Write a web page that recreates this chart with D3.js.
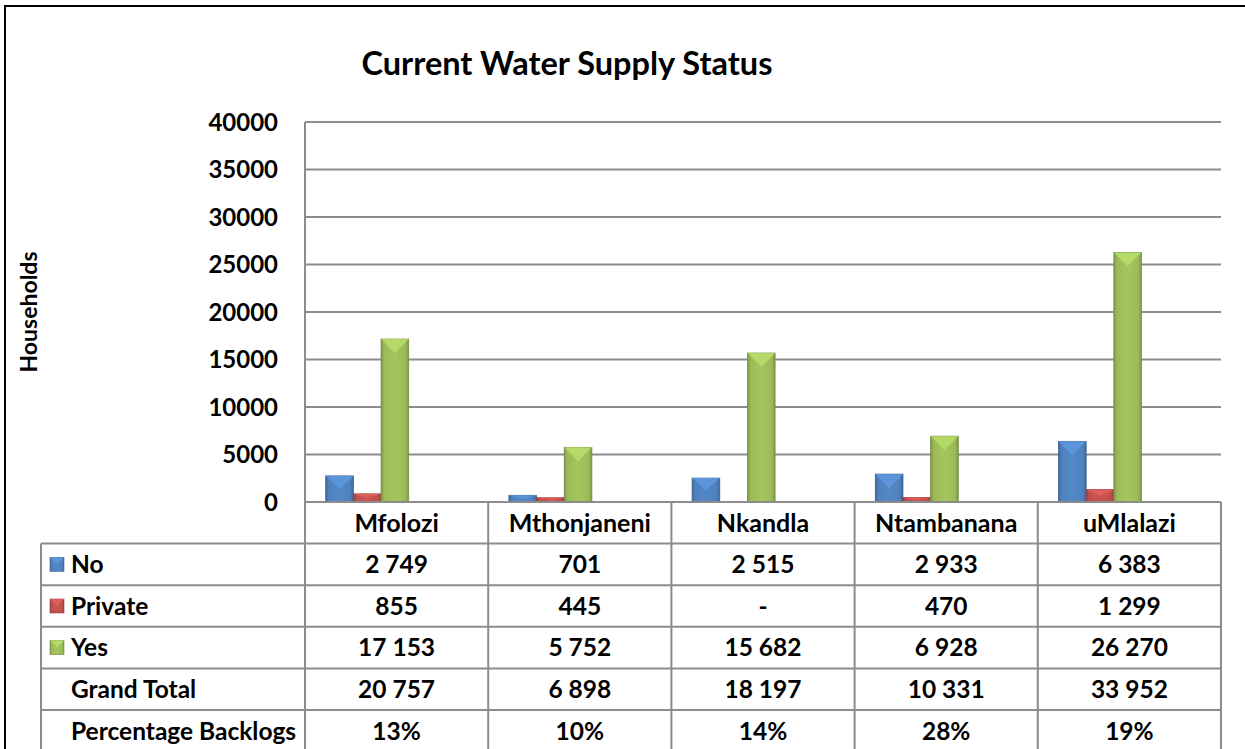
<!DOCTYPE html>
<html>
<head>
<meta charset="utf-8">
<script src="https://cdn.jsdelivr.net/npm/d3@7"></script>
<style>
  body { margin: 0; background: #fff; }
  text { font-family: Lato, "Open Sans", sans-serif; font-weight: bold; fill: #000; }
</style>
</head>
<body>
<div id="chart"></div>
<script>
// Data
const categories = ["Mfolozi", "Mthonjaneni", "Nkandla", "Ntambanana", "uMlalazi"];
const seriesNames = ["No", "Private", "Yes"];
const noValues = [2749, 701, 2515, 2933, 6383];
const privateValues = [855, 445, null, 470, 1299];
const yesValues = [17153, 5752, 15682, 6928, 26270];
const grandTotals = [20757, 6898, 18197, 10331, 33952];
const backlogPct = ["13%", "10%", "14%", "28%", "19%"];
const yTicks = [0, 5000, 10000, 15000, 20000, 25000, 30000, 35000, 40000];

const seriesValues = [noValues, privateValues, yesValues];
const colors = ["#4F81BD", "#C0504D", "#9BBB59"];

const width = 1245;
const height = 749;
const plot = { left: 305, right: 1221, top: 122, bottom: 502 };
const rowH = 41.6;
const tableLeft = 41;

const fmt = d3.formatLocale({ decimal: ".", thousands: " ", grouping: [3], currency: ["", ""] }).format(",");

const svg = d3.select("#chart")
    .append("svg")
    .attr("width", width)
    .attr("height", height);

const defs = svg.append("defs");
colors.forEach((c, i) => {
    const g = defs.append("linearGradient").attr("id", "grad" + i)
        .attr("x1", "0%").attr("x2", "100%").attr("y1", "0%").attr("y2", "0%");
    const base = d3.color(c);
    g.append("stop").attr("offset", "0%").attr("stop-color", base.darker(0.6));
    g.append("stop").attr("offset", "12%").attr("stop-color", base);
    g.append("stop").attr("offset", "50%").attr("stop-color", base.brighter(0.15));
    g.append("stop").attr("offset", "88%").attr("stop-color", base);
    g.append("stop").attr("offset", "100%").attr("stop-color", base.darker(0.6));
});

// Outer chart frame
svg.append("rect")
    .attr("x", 5).attr("y", 6)
    .attr("width", width + 10).attr("height", height + 10)
    .attr("fill", "none").attr("stroke", "#000").attr("stroke-width", 2);

// Title
svg.append("text")
    .attr("x", 567).attr("y", 75)
    .attr("text-anchor", "middle")
    .style("font-size", "32.5px")
    .text("Current Water Supply Status");

// Scales
const x = d3.scaleBand().domain(categories).range([plot.left, plot.right]);
const y = d3.scaleLinear().domain([0, 40000]).range([plot.bottom, plot.top]);

// Gridlines
svg.append("g").selectAll("line")
    .data(yTicks.filter(t => t > 0))
    .join("line")
    .attr("x1", plot.left).attr("x2", plot.right)
    .attr("y1", d => y(d)).attr("y2", d => y(d))
    .attr("stroke", "#8c8c8c").attr("stroke-width", 2);

// Y axis labels
const yAxis = d3.axisLeft(y).tickValues(yTicks).tickSize(0).tickPadding(27).tickFormat(d3.format("d"));
const yg = svg.append("g").attr("transform", `translate(${plot.left},0)`).call(yAxis);
yg.select(".domain").remove();
yg.selectAll("text")
    .style("font-family", "Lato, sans-serif")
    .style("font-weight", "bold")
    .style("font-size", "24px")
    .attr("fill", "#000")
    .attr("dy", "0.35em");

// Axis title
svg.append("text")
    .attr("transform", "translate(37,312) rotate(-90)")
    .attr("text-anchor", "middle")
    .style("font-size", "23px")
    .text("Households");

// Bars
const barW = x.bandwidth() * 0.151;
const barOffset = x.bandwidth() * 0.113;
seriesValues.forEach((vals, si) => {
    const g = svg.append("g");
    const data = categories.map((c, i) => ({ c, v: vals[i] || 0 })).filter(d => d.v > 0);
    g.selectAll("rect")
        .data(data)
        .join("rect")
        .attr("x", d => x(d.c) + barOffset + si * barW)
        .attr("y", d => y(d.v))
        .attr("width", barW)
        .attr("height", d => y(0) - y(d.v))
        .attr("fill", `url(#grad${si})`)
        .attr("stroke", d3.color(colors[si]).darker(0.8))
        .attr("stroke-width", 0.8);
    // bevel highlight on top
    g.selectAll("path")
        .data(data)
        .join("path")
        .attr("d", d => {
            const x0 = x(d.c) + barOffset + si * barW;
            const y0 = y(d.v);
            const h = Math.min(barW / 2, (y(0) - y0) / 2);
            return `M${x0},${y0}L${x0 + barW},${y0}L${x0 + barW / 2},${y0 + h}Z`;
        })
        .attr("fill", d3.color(colors[si]).brighter(0.5))
        .attr("opacity", 0.8);
});

// Data table
const table = svg.append("g");
const rows = [
    { label: "No", key: 0, cells: noValues.map(fmt) },
    { label: "Private", key: 1, cells: privateValues.map(v => v == null ? "-" : fmt(v)) },
    { label: "Yes", key: 2, cells: yesValues.map(fmt) },
    { label: "Grand Total", key: null, cells: grandTotals.map(fmt) },
    { label: "Percentage Backlogs", key: null, cells: backlogPct }
];
const tableTop = plot.bottom + rowH;
const tableBottom = tableTop + rows.length * rowH + 10;
const lineColor = "#8c8c8c";

// horizontal lines
const hLines = [plot.bottom].concat(rows.map((r, i) => tableTop + i * rowH));
table.selectAll("line.h")
    .data(hLines)
    .join("line")
    .attr("class", "h")
    .attr("x1", (d, i) => i === 0 ? plot.left : tableLeft)
    .attr("x2", plot.right)
    .attr("y1", d => d).attr("y2", d => d)
    .attr("stroke", lineColor).attr("stroke-width", 2);

// vertical lines
const vLines = [plot.left].concat(categories.map(c => x(c) + x.bandwidth()));
table.selectAll("line.v")
    .data(vLines)
    .join("line")
    .attr("class", "v")
    .attr("x1", d => d).attr("x2", d => d)
    .attr("y1", (d, i) => i === 0 ? plot.top : plot.bottom)
    .attr("y2", tableBottom)
    .attr("stroke", lineColor).attr("stroke-width", 2);
table.append("line")
    .attr("x1", tableLeft).attr("x2", tableLeft)
    .attr("y1", tableTop).attr("y2", tableBottom)
    .attr("stroke", lineColor).attr("stroke-width", 2);

// category labels
table.selectAll("text.cat")
    .data(categories)
    .join("text")
    .attr("class", "cat")
    .attr("x", d => x(d) + x.bandwidth() / 2)
    .attr("y", plot.bottom + rowH / 2)
    .attr("dy", "0.36em")
    .attr("text-anchor", "middle")
    .style("font-size", "25px")
    .text(d => d);

rows.forEach((r, ri) => {
    const cy = tableTop + ri * rowH + rowH / 2;
    if (r.key != null) {
        const kc = d3.color(colors[r.key]);
        table.append("rect")
            .attr("x", 50).attr("y", cy - 7)
            .attr("width", 14).attr("height", 14)
            .attr("fill", `url(#grad${r.key})`)
            .attr("stroke", kc.darker(0.8)).attr("stroke-width", 0.6);
        table.append("path")
            .attr("d", `M50,${cy - 7}L64,${cy - 7}L57,${cy}Z`)
            .attr("fill", kc.brighter(0.5)).attr("opacity", 0.8);
    }
    table.append("text")
        .attr("x", 71).attr("y", cy).attr("dy", "0.36em")
        .style("font-size", "24.5px")
        .text(r.label);
    table.selectAll(null)
        .data(r.cells)
        .join("text")
        .attr("x", (d, i) => x(categories[i]) + x.bandwidth() / 2)
        .attr("y", cy).attr("dy", "0.36em")
        .attr("text-anchor", "middle")
        .style("font-size", "24.5px")
        .text(d => d);
});
</script>
</body>
</html>
